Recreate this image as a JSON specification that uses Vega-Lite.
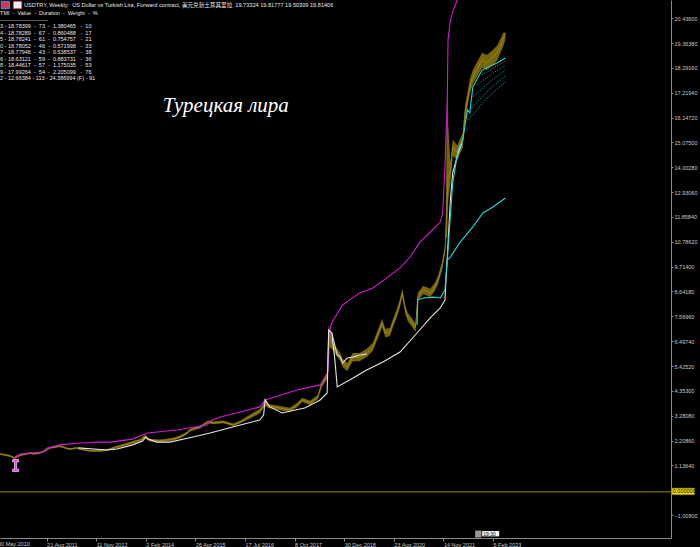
{
  "$schema": "https://vega.github.io/schema/vega-lite/v6.json",
  "width": 671,
  "height": 538,
  "autosize": {"type": "none"},
  "padding": {"left": 0, "top": 0, "right": 29, "bottom": 9},
  "background": "#000000",
  "config": {"view": {"stroke": null}, "font": "Liberation Sans", "axis": {"labelOverlap": false, "labelBound": false, "labelFlush": false, "grid": false, "title": null}},
  "datasets": {
    "price": [
      {"bar":4,"c":1.63,"lo":1.59,"hi":1.67},{"bar":17,"c":1.54,"lo":1.50,"hi":1.58},{"bar":23,"c":1.45,"lo":1.41,"hi":1.49},
      {"bar":30,"c":1.58,"lo":1.54,"hi":1.62},{"bar":43,"c":1.67,"lo":1.63,"hi":1.71},{"bar":46,"c":1.63,"lo":1.59,"hi":1.67},
      {"bar":55,"c":1.67,"lo":1.63,"hi":1.71},{"bar":62,"c":1.76,"lo":1.72,"hi":1.80},{"bar":68,"c":1.89,"lo":1.85,"hi":1.93},
      {"bar":75,"c":1.93,"lo":1.89,"hi":1.97},{"bar":81,"c":1.97,"lo":1.93,"hi":2.01},{"bar":88,"c":1.89,"lo":1.85,"hi":1.93},
      {"bar":94,"c":1.84,"lo":1.80,"hi":1.88},{"bar":103,"c":1.89,"lo":1.85,"hi":1.93},{"bar":107,"c":1.84,"lo":1.80,"hi":1.88},
      {"bar":120,"c":1.76,"lo":1.72,"hi":1.80},{"bar":133,"c":1.76,"lo":1.72,"hi":1.80},{"bar":142,"c":1.80,"lo":1.76,"hi":1.84},
      {"bar":159,"c":1.97,"lo":1.91,"hi":2.03},{"bar":172,"c":2.10,"lo":2.04,"hi":2.16},{"bar":185,"c":2.23,"lo":2.17,"hi":2.29},
      {"bar":191,"c":2.40,"lo":2.30,"hi":2.46},{"bar":197,"c":2.23,"lo":2.17,"hi":2.29},{"bar":210,"c":2.19,"lo":2.13,"hi":2.25},
      {"bar":219,"c":2.23,"lo":2.17,"hi":2.29},{"bar":227,"c":2.27,"lo":2.21,"hi":2.33},{"bar":236,"c":2.36,"lo":2.30,"hi":2.42},
      {"bar":245,"c":2.53,"lo":2.47,"hi":2.59},{"bar":249,"c":2.66,"lo":2.60,"hi":2.72},{"bar":258,"c":2.75,"lo":2.69,"hi":2.81},
      {"bar":262,"c":2.79,"lo":2.73,"hi":2.85},{"bar":272,"c":3.01,"lo":2.95,"hi":3.07},{"bar":279,"c":2.97,"lo":2.91,"hi":3.03},
      {"bar":292,"c":3.01,"lo":2.95,"hi":3.07},{"bar":305,"c":2.88,"lo":2.82,"hi":2.94},{"bar":314,"c":3.01,"lo":2.95,"hi":3.07},
      {"bar":330,"c":3.31,"lo":3.22,"hi":3.40},{"bar":339,"c":3.48,"lo":3.39,"hi":3.57},{"bar":343,"c":3.66,"lo":3.57,"hi":3.75},
      {"bar":346,"c":3.96,"lo":3.70,"hi":4.05},{"bar":350,"c":3.70,"lo":3.61,"hi":3.79},{"bar":365,"c":3.61,"lo":3.52,"hi":3.70},
      {"bar":378,"c":3.53,"lo":3.44,"hi":3.62},{"bar":387,"c":3.74,"lo":3.65,"hi":3.83},{"bar":394,"c":3.96,"lo":3.87,"hi":4.05},
      {"bar":404,"c":3.83,"lo":3.74,"hi":3.92},{"bar":414,"c":4.09,"lo":4.00,"hi":4.18},{"bar":419,"c":4.65,"lo":4.50,"hi":4.78},
      {"bar":426,"c":5.00,"lo":4.86,"hi":5.14},{"bar":428,"c":6.89,"lo":6.30,"hi":7.20},{"bar":434,"c":6.25,"lo":6.07,"hi":6.43},
      {"bar":439,"c":5.99,"lo":5.81,"hi":6.17},{"bar":443,"c":5.81,"lo":5.63,"hi":5.99},{"bar":446,"c":5.56,"lo":5.38,"hi":5.74},
      {"bar":452,"c":5.38,"lo":5.20,"hi":5.56},{"bar":459,"c":5.81,"lo":5.63,"hi":5.99},{"bar":468,"c":5.81,"lo":5.63,"hi":5.99},
      {"bar":477,"c":5.99,"lo":5.81,"hi":6.17},{"bar":485,"c":6.25,"lo":6.07,"hi":6.43},{"bar":492,"c":6.85,"lo":6.67,"hi":7.03},
      {"bar":497,"c":7.28,"lo":7.10,"hi":7.46},{"bar":501,"c":6.85,"lo":6.67,"hi":7.03},{"bar":507,"c":6.89,"lo":6.71,"hi":7.07},
      {"bar":511,"c":7.28,"lo":7.10,"hi":7.46},{"bar":516,"c":7.71,"lo":7.53,"hi":7.89},{"bar":520,"c":8.15,"lo":7.97,"hi":8.33},
      {"bar":523,"c":8.58,"lo":8.40,"hi":8.76},{"bar":527,"c":7.84,"lo":7.66,"hi":8.02},{"bar":530,"c":7.54,"lo":7.36,"hi":7.72},
      {"bar":536,"c":7.28,"lo":7.10,"hi":7.46},{"bar":540,"c":7.07,"lo":6.89,"hi":7.25},{"bar":543,"c":8.41,"lo":8.23,"hi":8.59},
      {"bar":550,"c":8.71,"lo":8.53,"hi":8.89},{"bar":559,"c":8.58,"lo":8.40,"hi":8.76},{"bar":565,"c":8.84,"lo":8.66,"hi":9.02},
      {"bar":569,"c":9.14,"lo":8.96,"hi":9.32},{"bar":574,"c":9.70,"lo":9.52,"hi":9.88},{"bar":578,"c":10.43,"lo":10.25,"hi":10.61},
      {"bar":579,"c":11.17,"lo":10.9,"hi":11.5},{"bar":581,"c":12.59,"lo":11.0,"hi":18.33},{"bar":582,"c":13.67,"lo":12.5,"hi":16.0},
      {"bar":585,"c":13.76,"lo":13.3,"hi":14.2},{"bar":588,"c":14.88,"lo":14.5,"hi":15.2},{"bar":594,"c":14.62,"lo":14.3,"hi":14.95},
      {"bar":597,"c":14.88,"lo":14.55,"hi":15.2},{"bar":601,"c":15.18,"lo":14.85,"hi":15.5},{"bar":604,"c":16.35,"lo":15.9,"hi":16.7},
      {"bar":607,"c":16.91,"lo":16.6,"hi":17.2},{"bar":610,"c":17.47,"lo":17.15,"hi":17.8},{"bar":614,"c":17.90,"lo":17.6,"hi":18.2},
      {"bar":621,"c":18.33,"lo":18.0,"hi":18.65},{"bar":626,"c":18.64,"lo":18.3,"hi":18.95},{"bar":632,"c":18.51,"lo":18.2,"hi":18.85},
      {"bar":639,"c":18.72,"lo":18.4,"hi":19.05},{"bar":645,"c":18.94,"lo":18.6,"hi":19.25},{"bar":649,"c":19.20,"lo":18.9,"hi":19.5},
      {"bar":653,"c":19.50,"lo":19.2,"hi":19.8},{"bar":656,"c":19.81,"lo":19.5,"hi":19.82}
    ],
    "lines": [
      {"s":"mag","bar":23,"v":1.50},{"s":"mag","bar":30,"v":1.63},{"s":"mag","bar":43,"v":1.67},{"s":"mag","bar":59,"v":1.71},
      {"s":"mag","bar":65,"v":1.89},{"s":"mag","bar":81,"v":2.02},{"s":"mag","bar":107,"v":2.10},{"s":"mag","bar":133,"v":2.14},
      {"s":"mag","bar":146,"v":2.14},{"s":"mag","bar":175,"v":2.27},{"s":"mag","bar":188,"v":2.45},{"s":"mag","bar":194,"v":2.53},
      {"s":"mag","bar":232,"v":2.66},{"s":"mag","bar":271,"v":2.88},{"s":"mag","bar":275,"v":3.05},{"s":"mag","bar":288,"v":3.22},
      {"s":"mag","bar":314,"v":3.44},{"s":"mag","bar":339,"v":3.66},{"s":"mag","bar":346,"v":3.96},{"s":"mag","bar":387,"v":4.39},
      {"s":"mag","bar":417,"v":4.61},{"s":"mag","bar":421,"v":4.80},{"s":"mag","bar":427,"v":5.17},{"s":"mag","bar":430,"v":7.11},
      {"s":"mag","bar":434,"v":7.41},{"s":"mag","bar":446,"v":8.06},{"s":"mag","bar":455,"v":8.28},{"s":"mag","bar":468,"v":8.58},
      {"s":"mag","bar":485,"v":8.79},{"s":"mag","bar":503,"v":9.23},{"s":"mag","bar":520,"v":9.66},{"s":"mag","bar":533,"v":10.13},
      {"s":"mag","bar":546,"v":10.78},{"s":"mag","bar":559,"v":11.21},{"s":"mag","bar":572,"v":11.64},{"s":"mag","bar":575,"v":12.03},
      {"s":"mag","bar":578,"v":14.02},{"s":"mag","bar":581,"v":16.91},{"s":"mag","bar":582,"v":19.50},{"s":"mag","bar":585,"v":20.36},
      {"s":"mag","bar":588,"v":20.71},{"s":"mag","bar":594,"v":21.23},{"s":"mag","bar":600,"v":22.10},
      {"s":"wht","bar":105,"v":1.89},{"s":"wht","bar":142,"v":1.80},{"s":"wht","bar":155,"v":1.84},{"s":"wht","bar":175,"v":2.02},
      {"s":"wht","bar":188,"v":2.19},{"s":"wht","bar":192,"v":2.36},{"s":"wht","bar":195,"v":2.27},{"s":"wht","bar":206,"v":2.14},
      {"s":"wht","bar":223,"v":2.14},{"s":"wht","bar":253,"v":2.36},{"s":"wht","bar":275,"v":2.53},{"s":"wht","bar":314,"v":2.88},
      {"s":"wht","bar":339,"v":3.09},{"s":"wht","bar":344,"v":3.31},{"s":"wht","bar":346,"v":3.96},{"s":"wht","bar":352,"v":3.66},
      {"s":"wht","bar":368,"v":3.40},{"s":"wht","bar":397,"v":3.61},{"s":"wht","bar":417,"v":3.96},{"s":"wht","bar":426,"v":4.26},
      {"s":"wht","bar":428,"v":6.98},{"s":"wht","bar":432,"v":6.85},{"s":"wht","bar":436,"v":5.68},{"s":"wht","bar":439,"v":4.52},
      {"s":"wht","bar":455,"v":4.82},{"s":"wht","bar":477,"v":5.25},{"s":"wht","bar":498,"v":5.60},{"s":"wht","bar":520,"v":6.03},
      {"s":"wht","bar":542,"v":6.85},{"s":"wht","bar":559,"v":7.50},{"s":"wht","bar":572,"v":7.93},{"s":"wht","bar":578,"v":8.27},
      {"s":"wht","bar":581,"v":10.13},{"s":"wht","bar":585,"v":12.59},{"s":"wht","bar":588,"v":13.76},{"s":"wht","bar":595,"v":14.62},
      {"s":"wht","bar":600,"v":15.05},
      {"s":"wht2","bar":432,"v":6.85},{"s":"wht2","bar":439,"v":5.90},{"s":"wht2","bar":443,"v":5.81},{"s":"wht2","bar":446,"v":5.56},
      {"s":"wht2","bar":452,"v":5.77},{"s":"wht2","bar":459,"v":5.81},{"s":"wht2","bar":468,"v":5.90},{"s":"wht2","bar":477,"v":5.94},
      {"s":"cyU","bar":542,"v":7.20},{"s":"cyU","bar":543,"v":8.27},{"s":"cyU","bar":550,"v":8.36},{"s":"cyU","bar":563,"v":8.40},
      {"s":"cyU","bar":572,"v":8.36},{"s":"cyU","bar":578,"v":8.71},{"s":"cyU","bar":581,"v":10.00},{"s":"cyU","bar":588,"v":13.33},
      {"s":"cyU","bar":595,"v":14.75},{"s":"cyU","bar":601,"v":15.18},{"s":"cyU","bar":607,"v":16.48},{"s":"cyU","bar":610,"v":16.35},
      {"s":"cyU","bar":614,"v":17.47},{"s":"cyU","bar":626,"v":18.20},{"s":"cyU","bar":645,"v":18.51},{"s":"cyU","bar":656,"v":18.72},
      {"s":"cyL","bar":581,"v":10.00},{"s":"cyL","bar":585,"v":10.13},{"s":"cyL","bar":597,"v":10.74},{"s":"cyL","bar":614,"v":11.43},
      {"s":"cyL","bar":627,"v":12.03},{"s":"cyL","bar":640,"v":12.29},{"s":"cyL","bar":656,"v":12.68}
    ],
    "fans": [
      {"s":"f1","bar":608,"v":16.04},{"s":"f1","bar":632,"v":16.99},{"s":"f1","bar":656,"v":17.69},
      {"s":"f2","bar":610,"v":16.48},{"s":"f2","bar":633,"v":17.30},{"s":"f2","bar":656,"v":17.95},
      {"s":"f3","bar":614,"v":17.04},{"s":"f3","bar":636,"v":17.70},{"s":"f3","bar":656,"v":18.20},
      {"s":"f4","bar":619,"v":17.56},{"s":"f4","bar":639,"v":18.05},{"s":"f4","bar":656,"v":18.40},
      {"s":"f5","bar":626,"v":17.99},{"s":"f5","bar":656,"v":18.59}
    ]
  },
  "layer": [
    {
      "data": {"name": "price"},
      "mark": {"type": "area", "color": "#76650a", "clip": true},
      "encoding": {
        "x": {"field": "bar", "type": "quantitative",
          "scale": {"domain": [3.87, 869.7], "nice": false, "zero": false},
          "axis": {"orient": "bottom", "title": null, "grid": false, "tickCount": 40,
            "values": [0, 64, 128, 192, 256, 320, 384, 448, 512, 576, 640],
            "labelExpr": "['30 May 2010','21 Aug 2011','11 Nov 2012','2 Feb 2014','26 Apr 2015','17 Jul 2016','8 Oct 2017','30 Dec 2018','23 Aug 2020','14 Nov 2021','5 Feb 2023'][round(datum.value/64)]",
            "domainColor": "#8a8a8a", "tickColor": "#8a8a8a", "tickSize": 3,
            "labelColor": "#c8c8c8", "labelFontSize": 5.5, "labelAlign": "left", "labelBaseline": "top",
            "labelPadding": 1, "labelDx": 1, "labelOverlap": false, "labelBound": false, "labelFlush": false}},
        "y": {"field": "lo", "type": "quantitative",
          "scale": {"domain": [-2.0, 21.226], "nice": false, "zero": false},
          "axis": {"orient": "right", "title": null, "grid": false, "tickCount": 40,
            "values": [20.436, 19.3638, 18.2916, 17.2194, 16.1472, 15.075, 14.0028, 12.9306, 11.8584, 10.7862, 9.714, 8.6418, 7.5696, 6.4974, 5.4252, 4.353, 3.2808, 2.2086, 1.1364, -1.008],
            "format": ".5f", "domainColor": "#8a8a8a", "tickColor": "#8a8a8a", "tickSize": 2,
            "labelColor": "#c8c8c8", "labelFontSize": 5.5, "labelPadding": 1,
            "labelOverlap": false, "labelBound": false, "labelFlush": false}},
        "y2": {"field": "hi"}
      }
    },
    {
      "data": {"values": [{"v": 0}]},
      "mark": {"type": "rule", "color": "#6a5700", "strokeWidth": 1.5},
      "encoding": {"y": {"field": "v", "type": "quantitative"}}
    },
    {
      "data": {"name": "price"},
      "mark": {"type": "line", "color": "#a08a18", "strokeWidth": 0.8, "clip": true},
      "encoding": {
        "x": {"field": "bar", "type": "quantitative"},
        "y": {"field": "c", "type": "quantitative"}
      }
    },
    {
      "data": {"name": "lines"},
      "mark": {"type": "line", "strokeWidth": 1.1, "clip": true},
      "encoding": {
        "x": {"field": "bar", "type": "quantitative"},
        "y": {"field": "v", "type": "quantitative"},
        "detail": {"field": "s"},
        "color": {"field": "s", "type": "nominal", "legend": null,
          "scale": {"domain": ["mag", "wht", "wht2", "cyU", "cyL", "f1", "f2", "f3", "f4", "f5"],
                    "range": ["#d21ad2", "#e4e4e4", "#d8d8d8", "#22d8d8", "#22d8d8", "#1fc8c8", "#1fc8c8", "#1fc8c8", "#1fc8c8", "#1fc8c8"]}}
      }
    },
    {
      "data": {"name": "fans"},
      "mark": {"type": "line", "strokeWidth": 0.9, "strokeDash": [1, 1.5], "clip": true},
      "encoding": {
        "x": {"field": "bar", "type": "quantitative"},
        "y": {"field": "v", "type": "quantitative"},
        "detail": {"field": "s"},
        "color": {"field": "s", "type": "nominal", "legend": null}
      }
    },
    {
      "data": {"values": [{"bar": 24, "v": 1.13}]},
      "mark": {"type": "point", "filled": true, "color": "#ff38ff", "stroke": "#ffffff", "strokeWidth": 0.6, "size": 144, "opacity": 1,
        "shape": "M-0.5,-1L0.5,-1L0.5,-0.6L0.18,-0.6L0.18,0.6L0.5,0.6L0.5,1L-0.5,1L-0.5,0.6L-0.18,0.6L-0.18,-0.6L-0.5,-0.6Z"},
      "encoding": {
        "x": {"field": "bar", "type": "quantitative"},
        "y": {"field": "v", "type": "quantitative"}
      }
    },
    {
      "data": {"values": [{"t": "Турецкая лира"}]},
      "mark": {"type": "text", "align": "left", "baseline": "alphabetic", "font": "Liberation Serif", "fontStyle": "italic", "fontSize": 21, "color": "#ffffff"},
      "encoding": {
        "x": {"datum": 214, "type": "quantitative"},
        "y": {"datum": 16.39, "type": "quantitative"},
        "text": {"field": "t"}
      }
    },
    {
      "data": {"values": [{"t": "USDTRY, Weekly:\u00a0 US Dollar vs Turkish Lira, Forward contract, 美元兑新土耳其里拉\u00a0 19.73324 19.81777 19.50309 19.81406"}]},
      "mark": {"type": "text", "align": "left", "baseline": "middle", "font": "Liberation Sans, Noto Sans CJK SC", "fontSize": 5.6, "color": "#e6e6e6"},
      "encoding": {
        "x": {"datum": 34.8, "type": "quantitative"},
        "y": {"datum": 21.0, "type": "quantitative"},
        "text": {"field": "t"}
      }
    },
    {
      "data": {"values": [{"t": 1}]},
      "mark": {"type": "text", "align": "left", "baseline": "top", "fontSize": 5.5, "lineHeight": 6.5, "color": "#e6e6e6",
        "text": [
          "TMI\u00a0 - \u00a0Value\u00a0 - \u00a0Duration\u00a0 - \u00a0Weight\u00a0 - \u00a0%",
          "--------------------------",
          "3 - 18.78399\u00a0 - \u00a073\u00a0 - \u00a01.380465\u00a0\u00a0 - \u00a010",
          "4 - 18.78289\u00a0 - \u00a067\u00a0 - \u00a00.860488\u00a0\u00a0 - \u00a017",
          "5 - 18.78241\u00a0 - \u00a061\u00a0 - \u00a00.754757\u00a0\u00a0 - \u00a021",
          "0 - 18.78052\u00a0 - \u00a046\u00a0 - \u00a00.571998\u00a0\u00a0 - \u00a033",
          "7 - 18.77946\u00a0 - \u00a043\u00a0 - \u00a00.538537\u00a0\u00a0 - \u00a038",
          "6 - 18.63121\u00a0 - \u00a059\u00a0 - \u00a00.883731\u00a0\u00a0 - \u00a036",
          "8 - 18.44617\u00a0 - \u00a057\u00a0 - \u00a01.175035\u00a0\u00a0 - \u00a053",
          "9 - 17.99264\u00a0 - \u00a054\u00a0 - \u00a02.205099\u00a0\u00a0 - \u00a076",
          "2 - 12.66384 - 113 - 24.386994 (F) - 91"
        ]},
      "encoding": {
        "x": {"datum": 3.9, "type": "quantitative"},
        "y": {"datum": 20.74, "type": "quantitative"}
      }
    },
    {
      "data": {"values": [{"t": "30 May 2010"}]},
      "mark": {"type": "text", "align": "left", "baseline": "top", "fontSize": 5.5, "color": "#c8c8c8", "dx": 1},
      "encoding": {
        "x": {"datum": 0, "type": "quantitative"},
        "y": {"datum": -2.18, "type": "quantitative"},
        "text": {"field": "t"}
      }
    },
    {
      "data": {"values": [{"t": 1}]},
      "mark": {"type": "rect", "color": "#f0dc00", "stroke": "#9a8a00", "strokeWidth": 0.5},
      "encoding": {
        "x": {"datum": 871, "type": "quantitative"},
        "x2": {"datum": 900},
        "y": {"datum": 0.15, "type": "quantitative"},
        "y2": {"datum": -0.13}
      }
    },
    {
      "data": {"values": [{"t": "0.000000"}]},
      "mark": {"type": "text", "align": "left", "baseline": "middle", "fontSize": 5.5, "color": "#000000"},
      "encoding": {
        "x": {"datum": 872, "type": "quantitative"},
        "y": {"datum": 0.01, "type": "quantitative"},
        "text": {"field": "t"}
      }
    },
    {
      "data": {"values": [{"t": 1}]},
      "mark": {"type": "rect", "color": "#9a9a9a"},
      "encoding": {
        "x": {"datum": 617, "type": "quantitative"},
        "x2": {"datum": 625},
        "y": {"datum": -1.68, "type": "quantitative"},
        "y2": {"datum": -1.98}
      }
    },
    {
      "data": {"values": [{"t": 1}]},
      "mark": {"type": "rect", "color": "#f4f4f4"},
      "encoding": {
        "x": {"datum": 626, "type": "quantitative"},
        "x2": {"datum": 648},
        "y": {"datum": -1.70, "type": "quantitative"},
        "y2": {"datum": -1.93}
      }
    },
    {
      "data": {"values": [{"t": "19:30"}]},
      "mark": {"type": "text", "align": "left", "baseline": "middle", "fontSize": 5, "color": "#000000"},
      "encoding": {
        "x": {"datum": 627.5, "type": "quantitative"},
        "y": {"datum": -1.81, "type": "quantitative"},
        "text": {"field": "t"}
      }
    },
    {
      "data": {"values": [{"t": 1}]},
      "mark": {"type": "rect", "color": "#c83a5a", "stroke": "#7080e0", "strokeWidth": 1},
      "encoding": {
        "x": {"datum": 5.5, "type": "quantitative"},
        "x2": {"datum": 16},
        "y": {"datum": 21.17, "type": "quantitative"},
        "y2": {"datum": 20.85}
      }
    },
    {
      "data": {"values": [{"t": 1}]},
      "mark": {"type": "rect", "color": "#ececf4", "stroke": "#d03040", "strokeWidth": 0.8},
      "encoding": {
        "x": {"datum": 21, "type": "quantitative"},
        "x2": {"datum": 32},
        "y": {"datum": 21.17, "type": "quantitative"},
        "y2": {"datum": 20.85}
      }
    }
  ]
}
